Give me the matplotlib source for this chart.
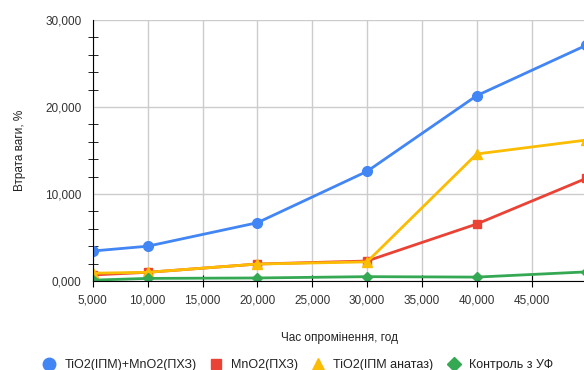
import matplotlib
matplotlib.use("Agg")
import matplotlib.pyplot as plt
from matplotlib.lines import Line2D
from matplotlib.ticker import MultipleLocator, FuncFormatter

# data
hours = [5000, 10000, 20000, 30000, 40000, 50000]
tio2_mno2 = [3.45, 4.0, 6.7, 12.6, 21.3, 27.1]
mno2 = [0.7, 1.0, 1.95, 2.3, 6.55, 11.8]
tio2_anatase = [0.9, 1.0, 1.95, 2.2, 14.6, 16.2]
control = [0.1, 0.3, 0.35, 0.5, 0.45, 1.05]

series_names = ["TiO2(ІПМ)+MnO2(ПХЗ)", "MnO2(ПХЗ)", "TiO2(ІПМ анатаз)", "Контроль з УФ"]

plt.rcParams['font.family'] = ['Liberation Sans', 'DejaVu Sans']

fig = plt.figure(figsize=(5.84, 3.70), dpi=100)
ax = fig.add_axes([0.159, 0.2405, 0.845, 0.7055])

styles = [("#4285F4", "o", 7, 9), ("#EA4335", "s", 6, 7.5), ("#FBBC04", "^", 7, 8.5), ("#34A853", "D", 5.5, 7.5)]
handles = []
for vals, name, (c, m, ms, lms) in zip([tio2_mno2, mno2, tio2_anatase, control], series_names, styles):
    ax.plot(hours, [v * 1000 for v in vals], color=c, marker=m, markersize=ms, lw=2)
    handles.append(Line2D([], [], color=c, marker=m, markersize=lms, ls="none", label=name))

ax.set_xlim(5000, 50000)
ax.set_ylim(0, 30000)
ax.xaxis.set_major_locator(MultipleLocator(5000))
ax.yaxis.set_major_locator(MultipleLocator(10000))
ax.yaxis.set_minor_locator(MultipleLocator(2000))
ax.xaxis.set_major_formatter(FuncFormatter(lambda v, p: "{:,.0f}".format(v) if v < 50000 else ""))
ax.yaxis.set_major_formatter(FuncFormatter(lambda v, p: "{:,.0f}".format(v) if v else "0,000"))

ax.grid(True, which="major", color="#cccccc", lw=1)
ax.set_axisbelow(True)
for s in ["top", "right"]:
    ax.spines[s].set_visible(False)
ax.tick_params(axis="x", which="major", direction="inout", length=8, labelsize=8.5, labelcolor="#333333", pad=6)
ax.tick_params(axis="y", which="major", length=0, labelsize=8.5, labelcolor="#333333", pad=8)
ax.tick_params(axis="y", which="minor", direction="inout", length=7)

ax.set_xlabel("Час опромінення, год", fontsize=8.5, color="#222222", labelpad=18)
ax.set_ylabel("Втрата ваги, %", fontsize=8.5, color="#222222", labelpad=14)

fig.legend(handles=handles, loc="lower center", bbox_to_anchor=(0.51, -0.033), ncol=4, frameon=False,
           fontsize=9, handlelength=1.0, columnspacing=1.1, handletextpad=0.7,
           labelcolor="#222222")

fig.savefig("out.png", dpi=100)
